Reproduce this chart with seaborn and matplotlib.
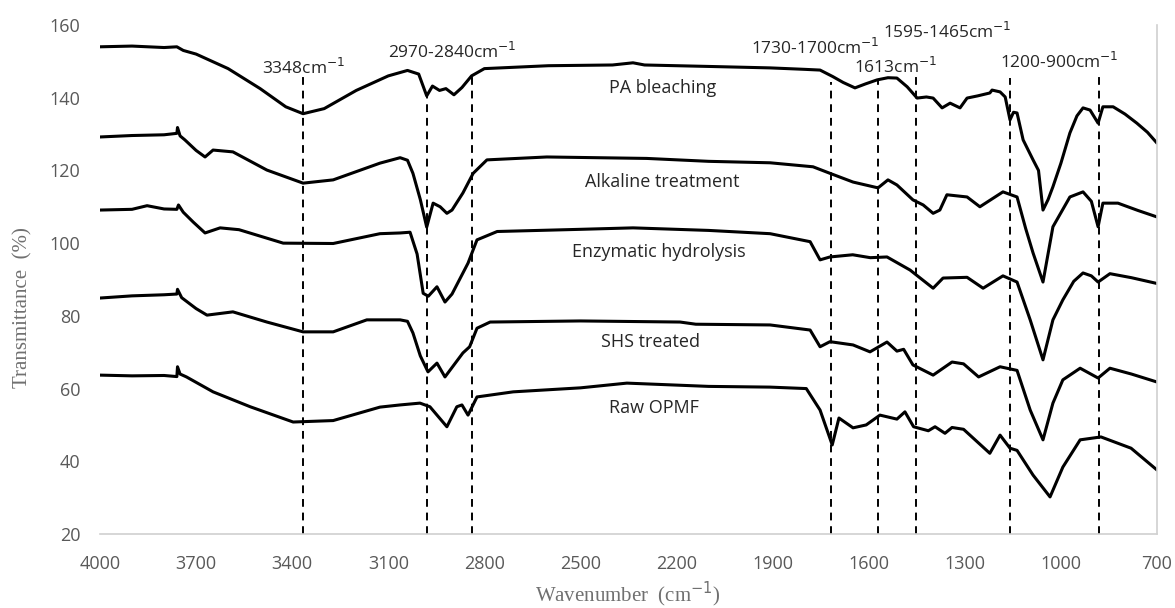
import matplotlib
matplotlib.use("Agg")
import matplotlib.pyplot as plt
import pandas as pd
import seaborn as sns

# wavenumber (cm-1) / transmittance (%), one pair of lists per sample
pa_wn = [4000, 3900, 3800, 3760, 3740, 3700, 3600, 3500, 3420, 3366, 3300, 3200, 3100, 3040,
         3005, 2980, 2962, 2940, 2920, 2895, 2870, 2840, 2800, 2600, 2400, 2336, 2300, 2100,
         1908, 1800, 1752, 1712, 1680, 1643, 1610, 1574, 1540, 1512, 1480, 1449, 1420, 1399,
         1371, 1346, 1315, 1293, 1260, 1222, 1215, 1190, 1174, 1159, 1148, 1137, 1118, 1087,
         1070, 1056, 1040, 1025, 1000, 972, 950, 931, 909, 884, 869, 837, 800, 763, 730, 700]
pa_t = [154, 154.2, 153.8, 154, 153, 152, 148, 142.5, 137.5, 135.6, 137, 142, 146, 147.5,
        146.5, 140.5, 143.2, 142, 142.5, 140.8, 142.8, 146, 148, 148.8, 149, 149.6, 149, 148.6,
        148.2, 147.8, 147.6, 145.8, 144.2, 142.7, 143.8, 144.9, 145.5, 145.4, 143, 139.9, 140.2, 139.9,
        137.2, 138.5, 137.2, 139.9, 140.5, 141.3, 142.1, 141.6, 140.2, 133.9, 136, 135.8, 128.4, 122.9,
        120, 109.1, 112, 115.5, 122, 130.3, 135, 137.2, 136.6, 133, 137.5, 137.5, 135.5, 133, 130.5, 127.5]

al_wn = [4000, 3900, 3800, 3760, 3758, 3750, 3735, 3700, 3672, 3647, 3585, 3479, 3366, 3272,
         3126, 3063, 3040, 3023, 3000, 2980, 2960, 2938, 2917, 2901, 2867, 2835, 2792, 2605,
         2293, 2100, 1908, 1774, 1721, 1649, 1571, 1540, 1512, 1462, 1430, 1399, 1378, 1356,
         1293, 1253, 1181, 1137, 1110, 1087, 1056, 1025, 972, 931, 905, 884, 869, 822, 760, 700]
al_t = [129.2, 129.6, 129.8, 130.2, 131.8, 129.5, 128.4, 125.5, 123.7, 125.6, 125.1, 120.1, 116.5, 117.4,
        122, 123.5, 122.8, 119.2, 112, 104.4, 111, 110, 108.2, 109.1, 113.8, 119.2, 122.9, 123.7,
        123.3, 122.5, 122.1, 121, 119.2, 116.8, 115.2, 117.4, 116, 111.9, 110.5, 108.2, 109.1, 113.3,
        112.7, 110, 114.1, 112.7, 104, 97.3, 89.3, 104.5, 112.7, 114.1, 111.5, 104.5, 111, 111, 109, 107.2]

en_wn = [4000, 3900, 3853, 3800, 3760, 3755, 3740, 3709, 3672, 3625, 3566, 3428, 3272, 3126,
         3063, 3032, 3010, 2991, 2975, 2948, 2923, 2901, 2851, 2823, 2760, 2500, 2336, 2100,
         1908, 1783, 1752, 1721, 1650, 1595, 1543, 1471, 1399, 1368, 1293, 1243, 1181, 1137,
         1096, 1056, 1025, 994, 960, 931, 905, 884, 847, 780, 700]
en_t = [109.1, 109.3, 110.3, 109.4, 109.3, 110.5, 108.5, 105.8, 102.8, 104.2, 103.7, 100, 99.9, 102.6,
        102.8, 103, 97, 86.2, 85.4, 88, 83.8, 86, 94.5, 100.9, 103.2, 103.8, 104.2, 103.5,
        102.6, 100.4, 95.4, 96.2, 96.8, 96, 96.2, 92.6, 87.6, 90.4, 90.6, 87.6, 91, 89.3,
        78.9, 67.9, 78.9, 84.4, 89.5, 91.8, 91, 89.3, 91.6, 90.5, 88.9]

shs_wn = [4000, 3900, 3800, 3760, 3758, 3745, 3700, 3666, 3585, 3479, 3366, 3272, 3167, 3063,
          3040, 3023, 3000, 2976, 2948, 2923, 2867, 2846, 2823, 2782, 2500, 2189, 2140, 1908,
          1783, 1752, 1721, 1649, 1596, 1543, 1512, 1491, 1462, 1399, 1340, 1304, 1257, 1190,
          1137, 1096, 1056, 1025, 994, 940, 884, 847, 780, 700]
shs_t = [84.9, 85.5, 85.8, 86, 87.3, 85, 82, 80.2, 81.1, 78.3, 75.6, 75.6, 78.9, 78.9,
         78.5, 75.3, 69, 64.6, 67, 63.2, 69.8, 71.5, 76.6, 78.3, 78.6, 78.3, 77.7, 77.5,
         76.1, 71.5, 72.9, 72, 70.1, 72.8, 70.3, 70.8, 66.5, 63.7, 67.3, 66.8, 63.2, 66,
         65, 54.1, 45.9, 56, 62.4, 65.6, 62.9, 65.6, 64, 61.8]

raw_wn = [4000, 3900, 3800, 3760, 3758, 3750, 3730, 3647, 3531, 3397, 3272, 3126, 3063, 3001,
          2970, 2917, 2886, 2870, 2851, 2823, 2710, 2500, 2355, 2100, 1908, 1795, 1752, 1714,
          1693, 1649, 1608, 1565, 1512, 1487, 1460, 1414, 1393, 1362, 1340, 1304, 1222, 1190,
          1159, 1137, 1087, 1034, 994, 940, 875, 781, 700]
raw_t = [63.7, 63.5, 63.6, 63.3, 66, 64, 63.2, 59.1, 55, 50.8, 51.2, 54.9, 55.5, 56,
         55, 49.5, 55, 55.5, 52.7, 57.7, 59.1, 60.2, 61.5, 60.6, 60.4, 60, 54.1, 44.5,
         51.9, 49.2, 50, 52.7, 51.6, 53.6, 49.5, 48.4, 49.5, 47.7, 49.3, 48.8, 42.2, 47.2,
         43.6, 43, 36.2, 30.2, 38.4, 45.9, 46.7, 43.6, 37.6]

samples = ["PA bleaching", "Alkaline treatment", "Enzymatic hydrolysis", "SHS treated", "Raw OPMF"]
sample_wn = [pa_wn, al_wn, en_wn, shs_wn, raw_wn]
sample_t = [pa_t, al_t, en_t, shs_t, raw_t]
label_wn = [2245, 2245, 2255, 2280, 2270]
label_t = [142.7, 116.8, 97.6, 72.8, 54.7]

# marked bands: dashed line position, its top and the annotation text
band_wn = [3366, 2980, 2840, 1718, 1570, 1452, 1159, 881]
band_top = [146, 140.5, 145.7, 144.3, 145, 146, 145.4, 146]
note_text = ["3348cm$^{-1}$", "2970-2840cm$^{-1}$", "1730-1700cm$^{-1}$", "1613cm$^{-1}$",
             "1595-1465cm$^{-1}$", "1200-900cm$^{-1}$"]
note_wn = [3366, 2901, 1768, 1515, 1356, 1006]
note_t = [148.2, 152.6, 153.7, 148.5, 158, 149.8]

rows = []
for name, wn, t in zip(samples, sample_wn, sample_t):
    for a, b in zip(wn, t):
        rows.append({"sample": name, "wavenumber": a, "transmittance": b})
df = pd.DataFrame(rows)

sns.set_style("white")
plt.rcParams["font.family"] = ["Open Sans", "DejaVu Sans"]
plt.rcParams["mathtext.fontset"] = "dejavusans"

fig = plt.figure(figsize=(11.75, 6.08), dpi=100)
ax = fig.add_axes([0.0851, 0.1217, 0.8996, 0.8372])

sns.lineplot(data=df, x="wavenumber", y="transmittance", units="sample", estimator=None,
             color="black", linewidth=2.2, ax=ax, legend=False)

ax.vlines(band_wn, 20, band_top, colors="black", linestyles=(0, (4, 3)), linewidth=1.4)

for txt, x, y in zip(note_text, note_wn, note_t):
    ax.text(x, y, txt, ha="center", va="center", fontsize=12.5, color="#262626")
for txt, x, y in zip(samples, label_wn, label_t):
    ax.text(x, y, txt, ha="center", va="center", fontsize=13, color="#262626")

ax.set_xlim(4000, 700)
ax.set_ylim(20, 160)
ax.set_xticks(range(4000, 699, -300))
ax.set_yticks(range(20, 161, 20))
ax.tick_params(axis="x", length=0, labelsize=13, labelcolor="#595959", pad=15)
ax.tick_params(axis="y", length=0, labelsize=13, labelcolor="#595959", pad=14)
ax.set_xlabel("")
ax.set_ylabel("")

for side in ["left", "top"]:
    ax.spines[side].set_visible(False)
for side in ["bottom", "right"]:
    ax.spines[side].set_color("#d0d0d0")
    ax.spines[side].set_linewidth(1.2)

fig.text(628 / 1175, 1 - 594 / 608, "Wavenumber  (cm$^{-1}$)", family="Liberation Serif",
         fontsize=15, color="#707070", ha="center", va="center")
fig.text(23 / 1175, 1 - 308 / 608, "Transmittance  (%)", family="Liberation Serif",
         fontsize=15, color="#707070", ha="center", va="center", rotation=90)

fig.savefig("out.png", dpi=100)
